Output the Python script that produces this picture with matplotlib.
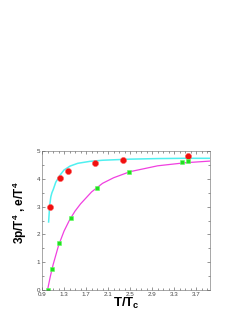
import numpy as np
import matplotlib.pyplot as plt
from matplotlib.ticker import MultipleLocator

plt.rcParams['font.family'] = ['Liberation Sans', 'DejaVu Sans']
plt.rcParams['mathtext.fontset'] = 'custom'
plt.rcParams['mathtext.rm'] = 'Liberation Sans:bold'
plt.rcParams['mathtext.bf'] = 'Liberation Sans:bold'

# lattice points
T_e = [1.045, 1.23, 1.37, 1.86, 2.37, 3.55]
e_T4 = [2.98, 4.04, 4.30, 4.57, 4.69, 4.83]
T_p = [1.015, 1.076, 1.215, 1.42, 1.89, 2.48, 3.45, 3.55]
p3_T4 = [0.0, 0.74, 1.68, 2.61, 3.68, 4.26, 4.59, 4.63]

# fit curves
T_ce = [1.02, 1.04, 1.06, 1.08, 1.105, 1.15, 1.23, 1.3, 1.41, 1.55, 1.77, 2.0, 2.5, 3.0, 3.5, 3.95]
ce = [2.45, 3.05, 3.35, 3.5, 3.62, 3.88, 4.14, 4.32, 4.46, 4.56, 4.63, 4.67, 4.71, 4.73, 4.74, 4.74]
T_cp = [1.0, 1.05, 1.1, 1.2, 1.3, 1.4, 1.5, 1.6, 1.8, 2.0, 2.2, 2.5, 3.0, 3.5, 3.95]
cp = [0.0, 0.48, 0.9, 1.6, 2.12, 2.52, 2.84, 3.1, 3.53, 3.84, 4.04, 4.26, 4.47, 4.58, 4.64]

fig = plt.figure(figsize=(2.53, 3.27), dpi=100)
ax = fig.add_axes([0.166, 0.113, 0.664, 0.425])

ax.plot(T_ce, ce, color='#50f0f0', lw=1.1)
ax.plot(T_cp, cp, color='#f040e0', lw=0.9)
ax.plot(T_e, e_T4, 'o', color='#f01010', ms=4.4, mec='#ff6060', mew=0.4)
ax.plot(T_p, p3_T4, 's', color='#20e020', ms=3.5, mec='#60ff60', mew=0.4)

ax.set_xlim(0.9, 3.95)
ax.set_ylim(0, 5)
ax.set_xticks([0.9, 1.3, 1.7, 2.1, 2.5, 2.9, 3.3, 3.7])
ax.set_xticklabels(['0.9', '1.3', '1.7', '2.1', '2.5', '2.9', '3.3', '3.7'])
ax.xaxis.set_minor_locator(MultipleLocator(0.1))
ax.yaxis.set_minor_locator(MultipleLocator(0.5))
ax.tick_params(which='both', direction='in', top=True, right=True, width=0.4,
               labelsize=4.5, pad=1.5, colors='#444444')
ax.tick_params(which='major', length=2.5)
ax.tick_params(which='minor', length=1.2)
for s in ax.spines.values():
    s.set_linewidth(0.4)
    s.set_color('#666666')

ax.set_xlabel('T/T$_\\mathbf{c}$', fontsize=9.5, fontweight='bold', labelpad=-1)
ax.set_ylabel('3p/T$^\\mathbf{4}$ , e/T$^\\mathbf{4}$', fontsize=8.5, fontweight='bold')
ax.yaxis.set_label_coords(-0.075, 0.56)

fig.savefig('out.png', dpi=100)
